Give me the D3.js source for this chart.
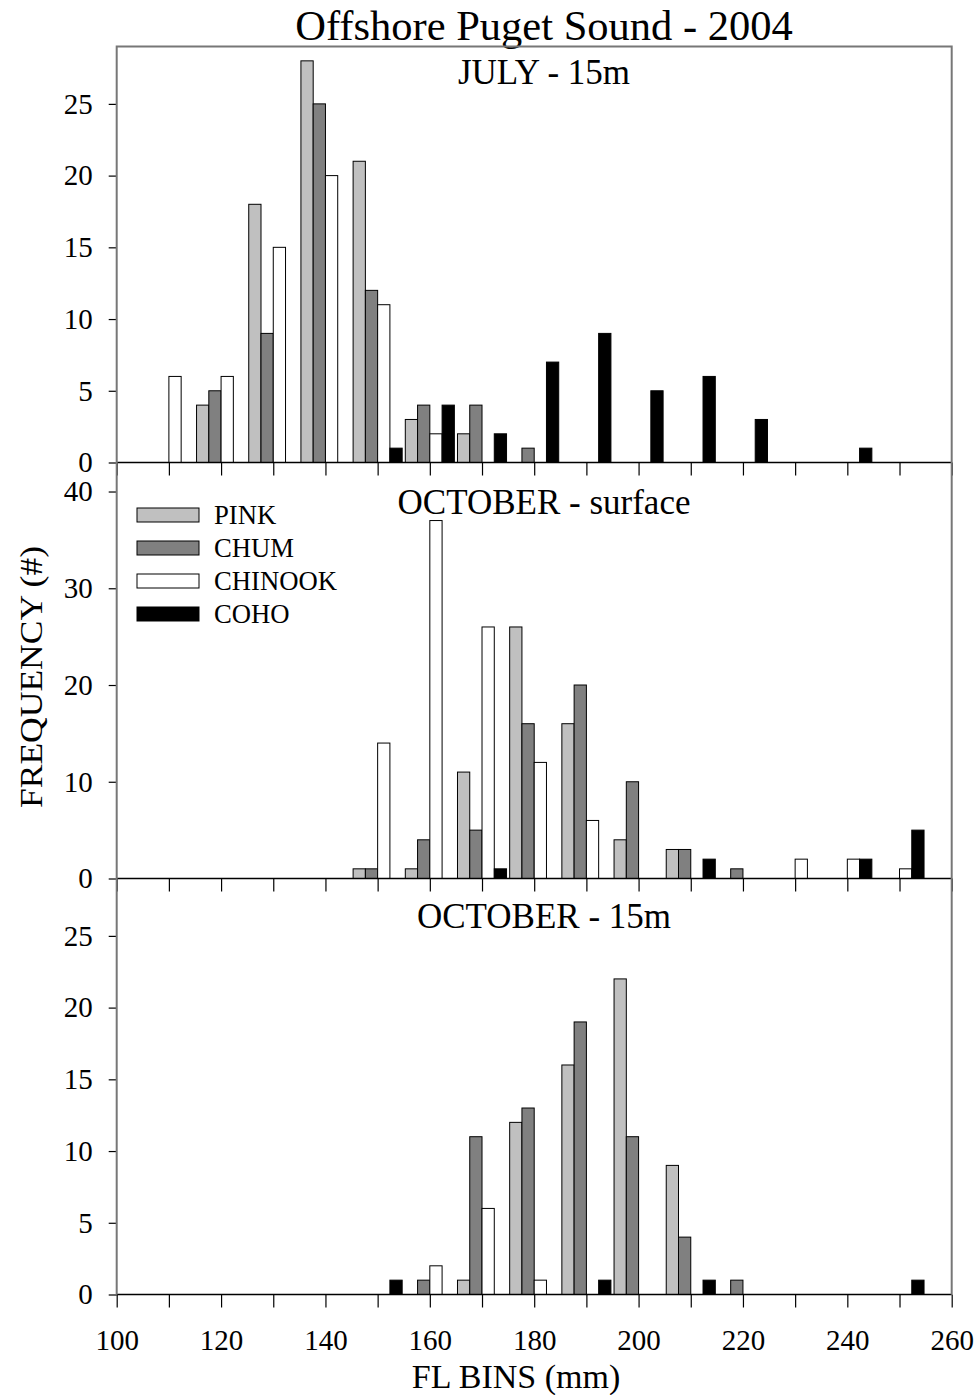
<!DOCTYPE html>
<html>
<head>
<meta charset="utf-8">
<script src="https://cdn.jsdelivr.net/npm/d3@7"></script>
<style>
  html, body { margin: 0; padding: 0; background: #fff; }
  svg { display: block; font-family: "Liberation Serif", "Times New Roman", serif; }
</style>
</head>
<body>
<svg id="chart" width="980" height="1395"></svg>
<script>
// ---------- DATA ----------
const bins = [110, 120, 130, 140, 150, 160, 170, 180, 190, 200, 210, 220, 230, 240, 250];
const species = ["PINK", "CHUM", "CHINOOK", "COHO"];
const xTicks = [100, 120, 140, 160, 180, 200, 220, 240, 260];
const panelTitles = ["JULY - 15m", "OCTOBER - surface", "OCTOBER - 15m"];

const julyPink    = [0, 4, 18, 28, 21, 3, 2, 0, 0, 0, 0, 0, 0, 0, 0];
const julyChum    = [0, 5, 9, 25, 12, 4, 4, 1, 0, 0, 0, 0, 0, 0, 0];
const julyChinook = [6, 6, 15, 20, 11, 2, 0, 0, 0, 0, 0, 0, 0, 0, 0];
const julyCoho    = [0, 0, 0, 0, 1, 4, 2, 7, 9, 5, 6, 3, 0, 1, 0];

const octSurfPink    = [0, 0, 0, 0, 1, 1, 11, 26, 16, 4, 3, 0, 0, 0, 0];
const octSurfChum    = [0, 0, 0, 0, 1, 4, 5, 16, 20, 10, 3, 1, 0, 0, 0];
const octSurfChinook = [0, 0, 0, 0, 14, 37, 26, 12, 6, 0, 0, 0, 2, 2, 1];
const octSurfCoho    = [0, 0, 0, 0, 0, 0, 1, 0, 0, 0, 2, 0, 0, 2, 5];

const oct15Pink    = [0, 0, 0, 0, 0, 0, 1, 12, 16, 22, 9, 0, 0, 0, 0];
const oct15Chum    = [0, 0, 0, 0, 0, 1, 11, 13, 19, 11, 4, 1, 0, 0, 0];
const oct15Chinook = [0, 0, 0, 0, 0, 2, 6, 1, 0, 0, 0, 0, 0, 0, 0];
const oct15Coho    = [0, 0, 0, 0, 1, 0, 0, 0, 1, 0, 1, 0, 0, 0, 1];

const yMax = [29, 43, 29];
const yTicks = [[0, 5, 10, 15, 20, 25], [0, 10, 20, 30, 40], [0, 5, 10, 15, 20, 25]];

const panels = [
  [julyPink, julyChum, julyChinook, julyCoho],
  [octSurfPink, octSurfChum, octSurfChinook, octSurfCoho],
  [oct15Pink, oct15Chum, oct15Chinook, oct15Coho]
];

// ---------- STYLE / LAYOUT ----------
const fills = ["#c0c0c0", "#808080", "#ffffff", "#000000"];
const plotL = 116.7, plotR = 951.7, plotT = 46.5, panelH = 416;
const barW = 2.35; // in mm units

const svg = d3.select("#chart");
const x = d3.scaleLinear().domain([100, 260]).range([plotL, plotR]);

// Title
svg.append("text").attr("x", 544).attr("y", 40).attr("text-anchor", "middle")
  .attr("font-size", 42.5).text("Offshore Puget Sound - 2004");

panels.forEach((series, p) => {
  const y0 = plotT + p * panelH, y1 = y0 + panelH;
  const y = d3.scaleLinear().domain([0, yMax[p]]).range([y1, y0]);
  const g = svg.append("g");

  // bars
  series.forEach((vals, s) => {
    g.selectAll(null).data(bins.map((b, i) => ({ b, v: vals[i] })).filter(d => d.v > 0))
      .enter().append("rect")
      .attr("x", d => x(d.b + (s - 2) * barW))
      .attr("width", d => x(d.b + (s - 1) * barW) - x(d.b + (s - 2) * barW))
      .attr("y", d => y(d.v))
      .attr("height", d => y(0) - y(d.v))
      .attr("fill", fills[s])
      .attr("stroke", "#000")
      .attr("stroke-width", 1);
  });

  // y axis
  const ya = d3.axisLeft(y).tickValues(yTicks[p]).tickSize(8).tickPadding(16).tickFormat(d3.format("d"));
  const yg = g.append("g").attr("transform", `translate(${plotL},0)`).call(ya);
  yg.select(".domain").remove();
  yg.selectAll(".tick line").attr("stroke", "#000").attr("stroke-width", 1.2);
  yg.selectAll(".tick text").attr("font-size", 29).attr("fill", "#000")
    .attr("font-family", "Liberation Serif, serif");

  // x ticks along zero line
  const xa = d3.axisBottom(x).tickValues(d3.range(100, 261, 10)).tickSize(13)
    .tickFormat(p === 2 ? (d => (xTicks.includes(d) ? d : "")) : () => "").tickPadding(22);
  const xg = g.append("g").attr("transform", `translate(0,${y1})`).call(xa);
  xg.select(".domain").remove();
  xg.selectAll(".tick line").attr("stroke", "#000").attr("stroke-width", 1.2);
  xg.selectAll(".tick text").attr("font-size", 29).attr("fill", "#000")
    .attr("font-family", "Liberation Serif, serif");

  // zero line
  g.append("line").attr("x1", plotL).attr("x2", plotR).attr("y1", y1).attr("y2", y1)
    .attr("stroke", "#000").attr("stroke-width", 1.6);

  // panel title
  const tY = [84, 514, 928][p];
  g.append("text").attr("x", 544).attr("y", tY).attr("text-anchor", "middle")
    .attr("font-size", 35).text(panelTitles[p]);
});

// frame
svg.append("path")
  .attr("d", `M${plotL},${plotT + 3 * panelH} L${plotL},${plotT} L${plotR},${plotT} L${plotR},${plotT + 3 * panelH}`)
  .attr("fill", "none").attr("stroke", "#777").attr("stroke-width", 2);

// legend
const lg = svg.append("g");
species.forEach((sp, i) => {
  const cy = 515 + i * 33;
  lg.append("rect").attr("x", 137).attr("y", cy - 7).attr("width", 62).attr("height", 14)
    .attr("fill", fills[i]).attr("stroke", "#000").attr("stroke-width", 1);
  lg.append("text").attr("x", 214).attr("y", cy + 9).attr("font-size", 26.7).text(sp);
});

// axis titles
svg.append("text").attr("x", 516).attr("y", 1388).attr("text-anchor", "middle")
  .attr("font-size", 34).text("FL BINS (mm)");
svg.append("text").attr("transform", "translate(42,677) rotate(-90)")
  .attr("text-anchor", "middle").attr("font-size", 31)
  .attr("textLength", 262).attr("lengthAdjust", "spacingAndGlyphs")
  .text("FREQUENCY (#)");
</script>
</body>
</html>
